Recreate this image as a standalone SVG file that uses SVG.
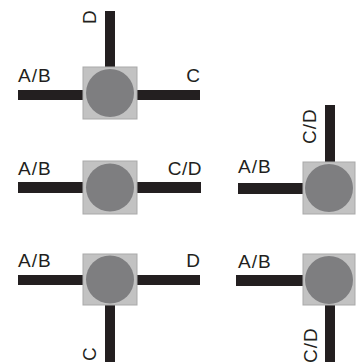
<svg xmlns="http://www.w3.org/2000/svg" width="356" height="362" viewBox="0 0 356 362">
<style>
.bar{fill:#231f20}
.sq{fill:#c2c2c2;stroke:#a9a9a9;stroke-width:1}
.ci{fill:#7e7e80}
text{font-family:"Liberation Sans",Arial,sans-serif;font-size:19px;fill:#231f20;letter-spacing:1px}
</style>
<rect width="356" height="362" fill="#ffffff"/>
<g id="connectors">
<rect class="bar" x="18" y="90" width="66" height="10"/>
<rect class="bar" x="136" y="90" width="64" height="10"/>
<rect class="bar" x="105" y="11" width="10" height="57"/>
<rect class="bar" x="18" y="182" width="66" height="11"/>
<rect class="bar" x="136" y="182" width="65" height="11"/>
<rect class="bar" x="238" y="183" width="66" height="11"/>
<rect class="bar" x="325" y="105" width="10" height="58"/>
<rect class="bar" x="18" y="275" width="66" height="10"/>
<rect class="bar" x="136" y="275" width="64" height="10"/>
<rect class="bar" x="105" y="304" width="10" height="58"/>
<rect class="bar" x="236" y="275" width="68" height="11"/>
<rect class="bar" x="325" y="304" width="10" height="58"/>
</g>
<g id="node1">
<rect class="sq" x="83" y="67" width="54" height="52"/>
<circle class="ci" cx="110" cy="93" r="24"/>
<text x="18" y="82">A/B</text>
<text x="200" y="82" text-anchor="end" style="letter-spacing:0">C</text>
<text transform="translate(96,24) rotate(-90)">D</text>
</g>
<g id="node2">
<rect class="sq" x="83" y="161" width="54" height="53"/>
<circle class="ci" cx="110" cy="187.5" r="24"/>
<text x="18" y="175">A/B</text>
<text x="202" y="175" text-anchor="end" style="letter-spacing:0.5px">C/D</text>
</g>
<g id="node3">
<rect class="sq" x="303" y="162" width="52" height="52"/>
<circle class="ci" cx="329" cy="188" r="24"/>
<text x="238" y="173">A/B</text>
<text transform="translate(316,144) rotate(-90)">C/D</text>
</g>
<g id="node4">
<rect class="sq" x="83" y="254" width="54" height="51"/>
<circle class="ci" cx="110" cy="279.5" r="24"/>
<text x="18" y="267">A/B</text>
<text x="200" y="267" text-anchor="end" style="letter-spacing:0">D</text>
<text transform="translate(96,361) rotate(-90)">C</text>
</g>
<g id="node5">
<rect class="sq" x="303" y="254" width="52" height="51"/>
<circle class="ci" cx="329" cy="280" r="24"/>
<text x="238" y="268">A/B</text>
<text transform="translate(317,363) rotate(-90)">C/D</text>
</g>
</svg>
